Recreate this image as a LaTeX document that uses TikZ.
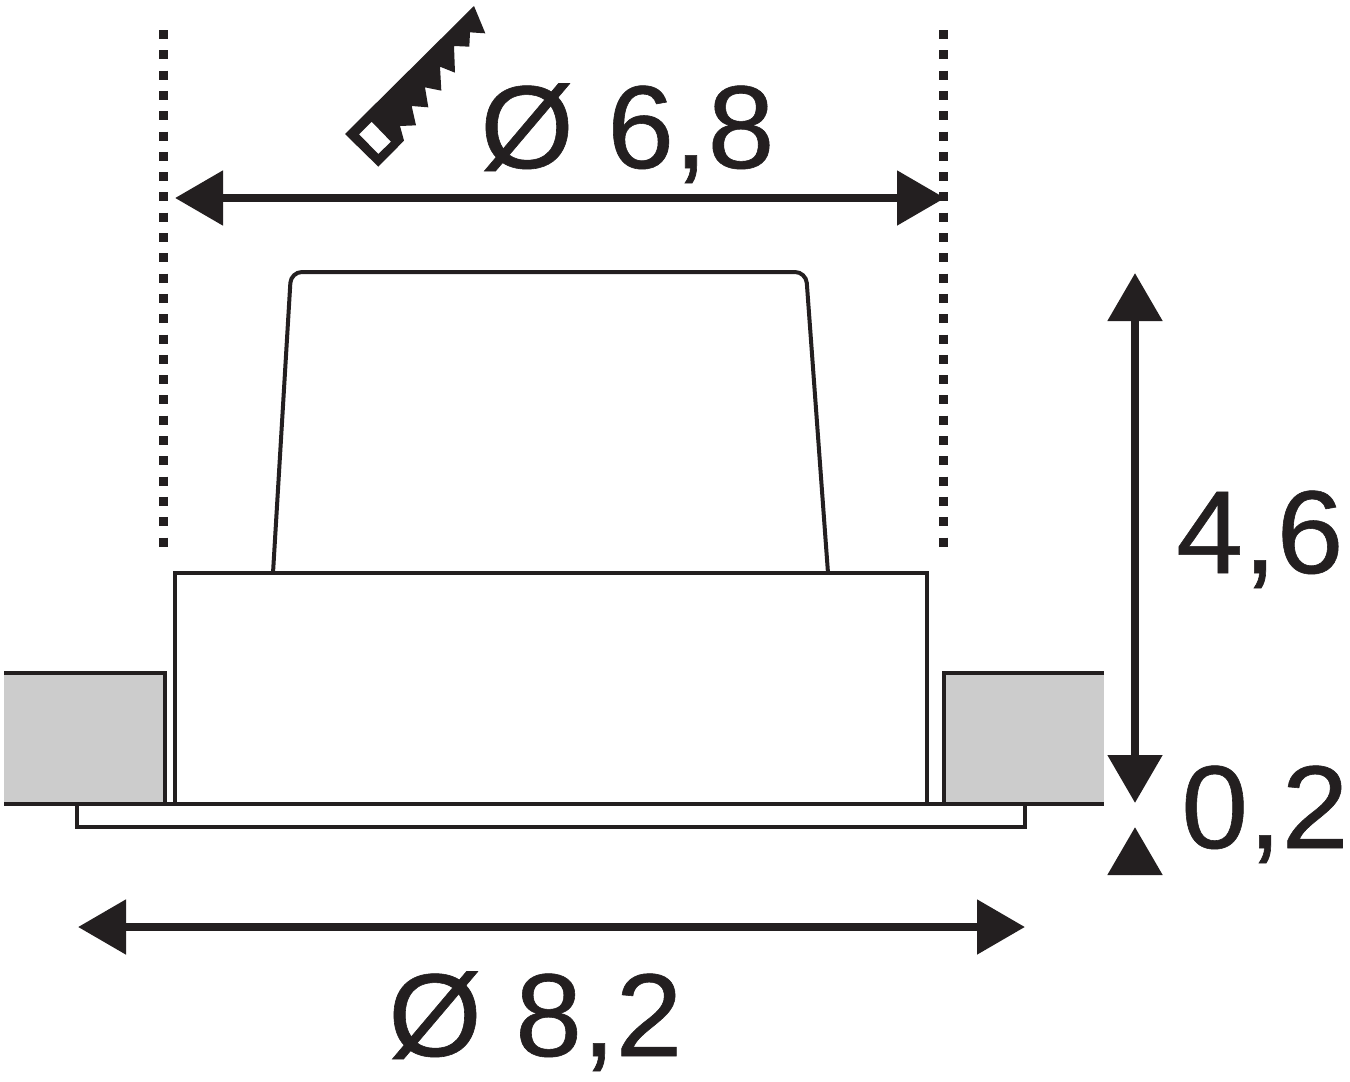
\documentclass[tikz,border=0pt]{standalone}
\usepackage{fontspec}
\setmainfont[FakeStretch=1.02,FakeBold=0.5]{Liberation Sans}
\usetikzlibrary{arrows.meta}
\definecolor{ink}{HTML}{231F20}
\definecolor{wall}{HTML}{CCCCCC}
\tikzset{
  px/.style={x=1pt,y=-1pt},
  outline/.style={draw=ink,line width=4.8pt,line join=miter},
  thinoutline/.style={draw=ink,line width=4pt,line join=miter},
  dotline/.style={draw=ink,line width=9.5pt,dash pattern=on 9pt off 11.3pt},
  dimline/.style={draw=ink,line width=8.5pt,>={Triangle[length=48pt,width=53pt]}},
  label/.style={text=ink,font=\fontsize{118}{118}\selectfont,inner sep=0pt,anchor=base west}
}
\begin{document}
\begin{tikzpicture}[px]
\useasboundingbox (0,0) rectangle (1350,1082);
\fill[white] (0,0) rectangle (1350,1082);
% walls
\fill[wall] (4,673) rectangle (165,804);
\fill[wall] (944,673) rectangle (1104,804);
\draw[outline,line cap=butt] (4,673) -- (165,673) -- (165,804);
\draw[outline,line cap=butt] (1104,673) -- (944,673) -- (944,804);
% lamp body
\draw[thinoutline,rounded corners=11pt] (273,573) -- (291,272) -- (806,272) -- (828,573);
\draw[thinoutline] (175,804) -- (175,573) -- (926.5,573) -- (926.5,804);
\draw[thinoutline] (77,804) -- (77,827) -- (1025,827) -- (1025,804);
\draw[outline] (4,804) -- (1104,804);
% dotted limits
\coordinate (dl1) at (163.5,30); \coordinate (dl2) at (163.5,548);
\coordinate (dr1) at (943.5,30); \coordinate (dr2) at (943.5,548);
\draw[dotline] (dl1) -- (dl2);
\draw[dotline] (dr1) -- (dr2);
% dimensions
\coordinate (a1) at (175,198); \coordinate (a2) at (945,198);
\draw[dimline,<->] (a1) -- (a2);
\coordinate (b1) at (78,927); \coordinate (b2) at (1025,927);
\draw[dimline,<->] (b1) -- (b2);
\coordinate (c1) at (1135,273); \coordinate (c2) at (1135,803);
\draw[dimline,<->] (c1) -- (c2);
\coordinate (d1) at (1135,875); \coordinate (d2) at (1135,827);
\draw[dimline,->] (d1) -- (d2);
% labels
\node[label] (t68) at (480,168) {Ø 6,8};
\node[label] (t46) at (1176,573) {4,6};
\node[label] (t02) at (1181,848) {0,2};
\node[label] (t82) at (388,1056) {Ø 8,2};
% saw symbol
\begin{scope}[shift={(330,0)},x=0.33333pt,y=-0.33333pt]
\fill[ink,even odd rule] (432,18) -- (466,100) -- (420,97) -- (418,140) -- (372,138) -- (375,218) -- (330,200) -- (334,272) -- (285,262) -- (295,322) -- (245,318) -- (258,376) -- (210,378) -- (222,422) -- (145,500) -- (45,402) -- cycle
 (125,365) -- (183,425) -- (145,462) -- (87,403) -- cycle;
\end{scope}
\end{tikzpicture}
\end{document}
